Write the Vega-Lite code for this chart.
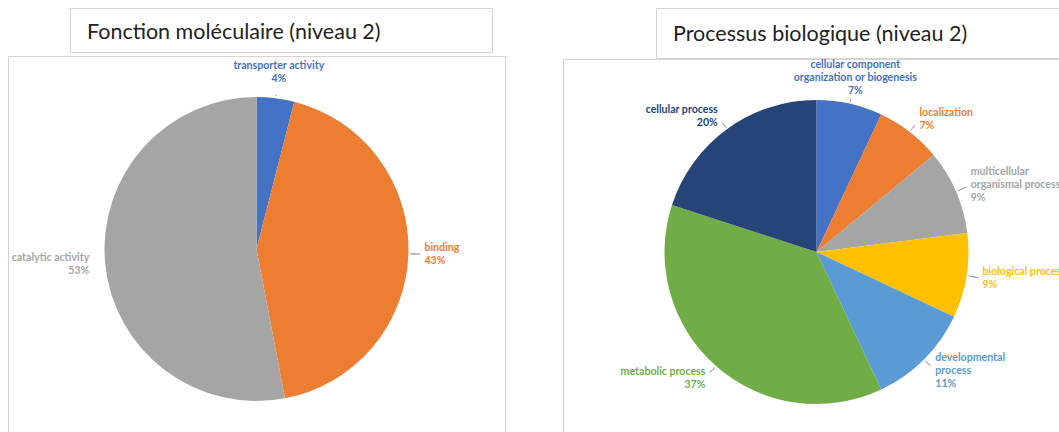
{
  "$schema": "https://vega.github.io/schema/vega-lite/v6.json",
  "padding": {"left": 7, "top": 7, "right": 0, "bottom": 0},
  "background": "white",
  "config": {
    "view": {"stroke": "#d4d4d4", "strokeWidth": 1},
    "font": "Lato",
    "title": {"font": "Lato", "fontSize": 21.5, "fontWeight": "normal", "color": "#222222", "anchor": "start", "frame": "group", "baseline": "alphabetic"}
  },
  "datasets": {
    "mf": [
      {"category": "transporter activity", "value": 4, "ord": 1, "label": "transporter activity\n4%"},
      {"category": "binding", "value": 43, "ord": 2, "label": "binding\n43%"},
      {"category": "catalytic activity", "value": 53, "ord": 3, "label": "catalytic activity\n53%"}
    ],
    "bp": [
      {"category": "cellular component organization or biogenesis", "value": 7, "ord": 1, "label": "cellular component\norganization or biogenesis\n7%"},
      {"category": "localization", "value": 7, "ord": 2, "label": "localization\n7%"},
      {"category": "multicellular organismal process", "value": 9, "ord": 3, "label": "multicellular\norganismal process\n9%"},
      {"category": "biological process", "value": 9, "ord": 4, "label": "biological process\n9%"},
      {"category": "developmental process", "value": 11, "ord": 5, "label": "developmental\nprocess\n11%"},
      {"category": "metabolic process", "value": 37, "ord": 6, "label": "metabolic process\n37%"},
      {"category": "cellular process", "value": 20, "ord": 7, "label": "cellular process\n20%"}
    ]
  },
  "resolve": {"scale": {"color": "independent", "theta": "independent"}},
  "spacing": 56,
  "hconcat": [
    {
      "spacing": 2,
      "vconcat": [
        {
          "spacing": 20,
          "hconcat": [
            {"width": 41, "height": 44, "view": {"stroke": null}, "data": {"values": []}, "mark": "text"},
            {"width": 422, "height": 44, "view": {"stroke": "#d4d4d4"}, "data": {"values": []}, "mark": "text",
             "title": {"text": "Fonction moléculaire (niveau 2)", "offset": -35, "dx": 17}}
          ]
        },
        {
          "width": 497, "height": 386,
          "view": {"stroke": "#d4d4d4"},
          "data": {"name": "mf"},
          "encoding": {
            "theta": {"field": "value", "type": "quantitative", "stack": true},
            "order": {"field": "ord", "type": "quantitative"},
            "color": {"field": "category", "type": "nominal", "legend": null,
              "scale": {"domain": ["transporter activity", "binding", "catalytic activity"], "range": ["#4472C4", "#ED7D31", "#A5A5A5"]}}
          },
          "layer": [
            {"mark": {"type": "arc", "outerRadius": 152}},
            {"transform": [{"filter": "datum.value < 50"}],
             "mark": {"type": "arc", "innerRadius": 154, "outerRadius": {"expr": "154 + 10*abs(sin(PI*(datum.value_start+datum.value_end)/100))"}, "padAngle": 3, "stroke": "#a6a6a6", "strokeWidth": 1, "fillOpacity": 0}},
            {"mark": {"type": "text",
                      "radius": {"expr": "abs(sin(PI*(datum.value_start+datum.value_end)/100)) > 0.35 ? 168 : 178"},
                      "align": {"expr": "sin(PI*(datum.value_start+datum.value_end)/100) > 0.35 ? 'left' : (sin(PI*(datum.value_start+datum.value_end)/100) < -0.35 ? 'right' : 'center')"},
                      "dy": {"expr": "-(length(split(datum.label, '\\n')) - 1) * 6.5"},
                      "fontWeight": "bold", "fontSize": 10.6, "lineBreak": "\n", "lineHeight": 13},
             "encoding": {"text": {"field": "label", "type": "nominal"}}}
          ]
        }
      ]
    },
    {
      "spacing": -3,
      "vconcat": [
        {
          "spacing": 20,
          "hconcat": [
            {"width": 72, "height": 50, "view": {"stroke": null}, "data": {"values": []}, "mark": "text"},
            {"width": 420, "height": 50, "view": {"stroke": "#d4d4d4"}, "data": {"values": []}, "mark": "text",
             "title": {"text": "Processus biologique (niveau 2)", "offset": -37, "dx": 17}}
          ]
        },
        {
          "width": 507, "height": 386,
          "view": {"stroke": "#d4d4d4"},
          "data": {"name": "bp"},
          "encoding": {
            "theta": {"field": "value", "type": "quantitative", "stack": true},
            "order": {"field": "ord", "type": "quantitative"},
            "color": {"field": "category", "type": "nominal", "legend": null,
              "scale": {"domain": ["cellular component organization or biogenesis", "localization", "multicellular organismal process", "biological process", "developmental process", "metabolic process", "cellular process"],
                        "range": ["#4472C4", "#ED7D31", "#A5A5A5", "#FFC000", "#5B9BD5", "#70AD47", "#264478"]}}
          },
          "layer": [
            {"mark": {"type": "arc", "outerRadius": 152}},
            {"transform": [{"filter": "datum.value < 50"}],
             "mark": {"type": "arc", "innerRadius": 154, "outerRadius": {"expr": "154 + 10*abs(sin(PI*(datum.value_start+datum.value_end)/100))"}, "padAngle": 3, "stroke": "#a6a6a6", "strokeWidth": 1, "fillOpacity": 0}},
            {"mark": {"type": "text",
                      "radius": {"expr": "abs(sin(PI*(datum.value_start+datum.value_end)/100)) > 0.35 ? 168 : 178"},
                      "align": {"expr": "sin(PI*(datum.value_start+datum.value_end)/100) > 0.35 ? 'left' : (sin(PI*(datum.value_start+datum.value_end)/100) < -0.35 ? 'right' : 'center')"},
                      "dy": {"expr": "-(length(split(datum.label, '\\n')) - 1) * 6.5"},
                      "fontWeight": "bold", "fontSize": 10.6, "lineBreak": "\n", "lineHeight": 13},
             "encoding": {"text": {"field": "label", "type": "nominal"}}}
          ]
        }
      ]
    }
  ]
}
